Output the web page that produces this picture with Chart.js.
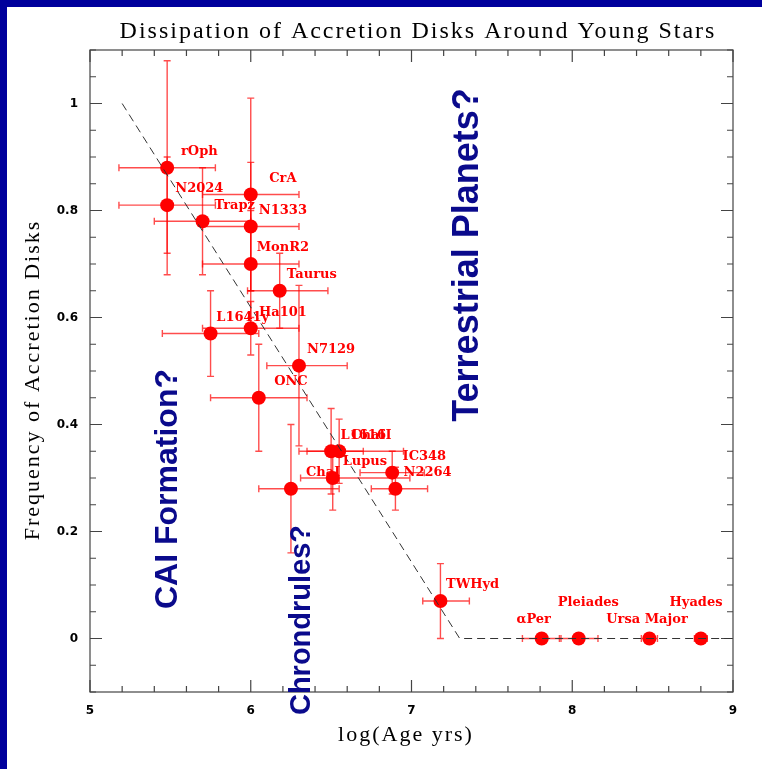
<!DOCTYPE html>
<html>
<head>
<meta charset="utf-8">
<script src="https://cdn.jsdelivr.net/npm/chart.js@4.4.1/dist/chart.umd.min.js"></script>
<style>
  html, body { margin: 0; padding: 0; background: #00009c; }
  body { width: 762px; height: 769px; overflow: hidden; position: relative; }
  #wrap { position: absolute; left: 7px; top: 7px; width: 755px; height: 762px; background: #fff; }
</style>
</head>
<body>
<div id="wrap"><canvas id="chart" width="755" height="762"></canvas></div>
<script>
// cluster data: log(age) and disk frequency, with error ranges
const names   = ['rOph', 'N2024', 'Trapz', 'CrA', 'N1333', 'MonR2', 'Taurus', 'L1641y', 'Ha101', 'N7129', 'ONC',
                 'ChaI', 'L1616', 'ChaII', 'Lupus', 'IC348', 'N2264', 'TWHyd', 'αPer', 'Pleiades', 'Ursa Major', 'Hyades'];
const logAge  = [5.48, 5.48, 5.70, 6.00, 6.00, 6.00, 6.18, 5.75, 6.00, 6.30, 6.05,
                 6.25, 6.50, 6.55, 6.51, 6.88, 6.90, 7.18, 7.81, 8.04, 8.48, 8.80];
const freq    = [0.88, 0.81, 0.78, 0.83, 0.77, 0.70, 0.65, 0.57, 0.58, 0.51, 0.45,
                 0.28, 0.35, 0.35, 0.30, 0.31, 0.28, 0.07, 0, 0, 0, 0];
const ageLo   = [5.18, 5.18, 5.40, 5.70, 5.70, 5.70, 5.98, 5.45, 5.70, 6.10, 5.75,
                 6.05, 6.30, 6.35, 6.31, 6.68, 6.75, 7.07, 7.69, 7.92, 8.43, 8.76];
const ageHi   = [5.78, 5.78, 6.00, 6.30, 6.30, 6.30, 6.48, 6.05, 6.30, 6.60, 6.35,
                 6.55, 6.70, 6.95, 6.99, 7.08, 7.10, 7.36, 7.93, 8.16, 8.53, 8.84];
const freqLo  = [0.68, 0.72, 0.68, 0.65, 0.65, 0.60, 0.58, 0.49, 0.53, 0.36, 0.35,
                 0.16, 0.27, 0.29, 0.24, 0.27, 0.24, 0.00, 0, 0, 0, 0];
const freqHi  = [1.08, 0.90, 0.88, 1.01, 0.89, 0.80, 0.72, 0.65, 0.63, 0.66, 0.55,
                 0.40, 0.43, 0.41, 0.36, 0.35, 0.32, 0.14, 0, 0, 0, 0];

// dissipation trend (dashed)
const trendAge  = [5.2, 7.3, 9.0];
const trendFreq = [1.0, 0.0, 0.0];

const xTicks = [5, 6, 7, 8, 9];
const yTicks = [0, 0.2, 0.4, 0.6, 0.8, 1];

// annotations
const zoneText = ['CAI Formation?', 'Chrondrules?', 'Terrestrial Planets?'];

const RED = '#ff0000';
const NAVY = '#0a0a8c';

const errorBars = {
    id: 'errorBars',
    beforeDatasetsDraw(chart) {
        const { ctx, scales: { x, y } } = chart;
        ctx.save();
        ctx.strokeStyle = 'rgba(255, 0, 0, 0.7)';
        ctx.lineWidth = 1.4;
        const cap = 3.5;
        logAge.forEach((a, i) => {
            const px = x.getPixelForValue(a), py = y.getPixelForValue(freq[i]);
            const x0 = x.getPixelForValue(ageLo[i]), x1 = x.getPixelForValue(ageHi[i]);
            const y0 = y.getPixelForValue(freqLo[i]), y1 = y.getPixelForValue(freqHi[i]);
            ctx.beginPath();
            ctx.moveTo(x0, py); ctx.lineTo(x1, py);
            ctx.moveTo(x0, py - cap); ctx.lineTo(x0, py + cap);
            ctx.moveTo(x1, py - cap); ctx.lineTo(x1, py + cap);
            if (freqHi[i] > freqLo[i]) {
                ctx.moveTo(px, y0); ctx.lineTo(px, y1);
                ctx.moveTo(px - cap, y0); ctx.lineTo(px + cap, y0);
                ctx.moveTo(px - cap, y1); ctx.lineTo(px + cap, y1);
            }
            ctx.stroke();
        });
        ctx.restore();
    }
};

// frame with inward ticks on all four sides
const frame = {
    id: 'frame',
    beforeDatasetsDraw(chart) {
        const { ctx, chartArea: a, scales: { x, y } } = chart;
        ctx.save();
        ctx.strokeStyle = '#444';
        ctx.lineWidth = 1.2;
        ctx.strokeRect(a.left, a.top, a.right - a.left, a.bottom - a.top);
        ctx.beginPath();
        for (let k = 0; k <= 20; k++) {
            const v = 5 + k * 0.2;
            const len = k % 5 === 0 ? 12 : 6;
            const px = x.getPixelForValue(v);
            ctx.moveTo(px, a.bottom); ctx.lineTo(px, a.bottom - len);
            ctx.moveTo(px, a.top); ctx.lineTo(px, a.top + len);
        }
        for (let k = -2; k <= 22; k++) {
            const v = k * 0.05;
            const len = k % 4 === 0 ? 12 : 6;
            const py = y.getPixelForValue(v);
            ctx.moveTo(a.left, py); ctx.lineTo(a.left + len, py);
            ctx.moveTo(a.right, py); ctx.lineTo(a.right - len, py);
        }
        ctx.stroke();
        ctx.restore();
    }
};

const labels = {
    id: 'labels',
    afterDatasetsDraw(chart) {
        const { ctx, scales: { x, y } } = chart;
        const shift = { 'αPer': [-0.05, 0.036], 'Pleiades': [0.06, 0.067], 'Ursa Major': [-0.015, 0.036], 'Hyades': [-0.03, 0.067] };
        ctx.save();
        ctx.fillStyle = RED;
        ctx.font = 'bold 13px "DejaVu Serif"';
        ctx.textAlign = 'center';
        ctx.textBaseline = 'middle';
        names.forEach((n, i) => {
            const [dx, dy] = shift[n] || [0.2, 0.03];
            ctx.fillText(n, x.getPixelForValue(logAge[i] + dx), y.getPixelForValue(freq[i] + dy));
        });
        ctx.restore();
    }
};

const texts = {
    id: 'texts',
    afterDraw(chart) {
        const { ctx } = chart;
        ctx.save();
        ctx.fillStyle = '#000';
        ctx.textAlign = 'center';
        ctx.textBaseline = 'middle';
        ctx.letterSpacing = '2px';
        ctx.font = '24px "Liberation Serif"';
        ctx.fillText('Dissipation of Accretion Disks Around Young Stars', 411, 25);
        ctx.font = '22px "Liberation Serif"';
        ctx.fillText('log(Age yrs)', 399, 728);
        ctx.save();
        ctx.translate(26, 373);
        ctx.rotate(-Math.PI / 2);
        ctx.fillText('Frequency of Accretion Disks', 0, 0);
        ctx.restore();

        ctx.letterSpacing = '0px';
        ctx.fillStyle = NAVY;
        ctx.textBaseline = 'alphabetic';
        const spots = [[170, 482, 32], [303, 613, 29], [471, 248, 36]];
        zoneText.forEach((t, i) => {
            const [cx, cy, size] = spots[i];
            ctx.save();
            ctx.translate(cx, cy);
            ctx.rotate(-Math.PI / 2);
            ctx.font = `bold ${size}px "Liberation Sans"`;
            ctx.fillText(t, 0, 0);
            ctx.restore();
        });
        ctx.restore();
    }
};

const tickFont = { family: 'DejaVu Sans', weight: 'bold', size: 12 };

new Chart(document.getElementById('chart'), {
    type: 'scatter',
    data: {
        datasets: [{
            type: 'line',
            data: trendAge.map((a, i) => ({ x: a, y: trendFreq[i] })),
            borderColor: '#333',
            borderWidth: 1,
            borderDash: [8, 5],
            pointRadius: 0,
            fill: false,
            tension: 0
        }, {
            data: logAge.map((a, i) => ({ x: a, y: freq[i] })),
            backgroundColor: RED,
            borderWidth: 0,
            pointRadius: 7
        }]
    },
    options: {
        responsive: false,
        animation: false,
        layout: { padding: { top: 43, right: 29, left: 0, bottom: 0 } },
        plugins: { legend: { display: false }, tooltip: { enabled: false }, title: { display: false } },
        scales: {
            x: {
                type: 'linear', min: 5, max: 9,
                afterBuildTicks: s => { s.ticks = xTicks.map(v => ({ value: v })); },
                afterFit: s => { s.height = 77; },
                grid: { display: false, drawTicks: false },
                border: { display: false },
                ticks: { color: '#000', font: tickFont, padding: 12, maxRotation: 0, autoSkip: false, callback: v => String(v) }
            },
            y: {
                type: 'linear', min: -0.1, max: 1.1,
                afterBuildTicks: s => { s.ticks = yTicks.map(v => ({ value: v })); },
                afterFit: s => { s.width = 83; },
                grid: { display: false, drawTicks: false },
                border: { display: false },
                ticks: { color: '#000', font: tickFont, padding: 12, autoSkip: false, callback: v => String(Math.round(v * 10) / 10) }
            }
        }
    },
    plugins: [frame, errorBars, labels, texts]
});
</script>
</body>
</html>
